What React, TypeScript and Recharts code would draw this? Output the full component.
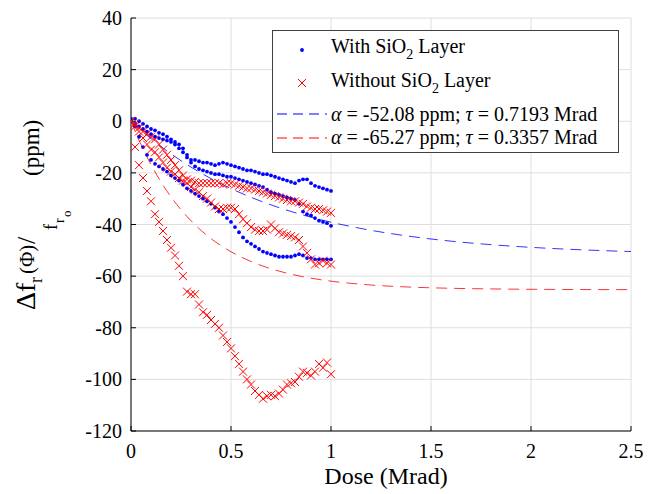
import React from "react";
import { ComposedChart, Scatter, Line, XAxis, YAxis, CartesianGrid, Legend } from "recharts";

const FONT = '"Liberation Serif", "Times New Roman", Times, serif';
const SERIF = { fontFamily: FONT };

const DOSE = [
  0, 0.02, 0.04, 0.06, 0.08, 0.1, 0.12, 0.14, 0.16, 0.18, 0.2, 0.22, 0.24, 0.26, 0.28, 0.3, 0.32,
  0.34, 0.36, 0.38, 0.4, 0.42, 0.44, 0.46, 0.48, 0.5, 0.52, 0.54, 0.56, 0.58, 0.6, 0.62, 0.64, 0.66,
  0.68, 0.7, 0.72, 0.74, 0.76, 0.78, 0.8, 0.82, 0.84, 0.86, 0.88, 0.9, 0.92, 0.94, 0.96, 0.98, 1.0,
];

// with SiO2 layer, three measurement runs
const WITH_RUN1 = [
  1, 1, 0, -1, -2, -3, -3.5, -4.5, -5, -6, -7, -8, -9, -10.5, -13, -15, -15, -15.5, -16, -16, -16.5,
  -17, -16.5, -16, -16.5, -17, -17.5, -18, -18.5, -19, -19, -19.5, -20, -20.5, -20.5, -21, -21.5,
  -22, -22.5, -23, -23.5, -24, -23, -22.5, -22.5, -24, -25, -25.5, -26, -26.5, -27,
];
const WITH_RUN2 = [
  0, -1, -2, -3, -4, -5, -6, -6.5, -7, -7.5, -8, -9, -10.5, -12, -14, -16, -17.5, -18.5, -19, -19.5,
  -20, -20.5, -20.5, -21, -21.5, -21.5, -22, -22.5, -23, -23.5, -24, -24.5, -25, -25.5, -26.5, -27.5,
  -28, -28.5, -29, -29.5, -30, -30.5, -32, -35, -36, -36.5, -37.5, -38.5, -39, -39.5, -40.5,
];
const WITH_RUN3 = [
  0, -2, -6, -10, -13, -15, -16.5, -17.5, -18.5, -19.5, -21, -22, -23, -24.5, -26, -27, -28, -29, -30,
  -31, -32, -33.5, -35, -36, -37.5, -39, -41, -43, -45, -46.5, -47.5, -48.5, -49.5, -50.5, -51, -51.5,
  -52, -52.5, -52.5, -52.5, -52.5, -52, -51.5, -52, -53, -53, -53.5, -53.5, -53.5, -53.5, -53.5,
];

// without SiO2 layer, three measurement runs
const WITHOUT_RUN1 = [
  0, -1, -2.5, -4, -5, -6, -7, -9, -11, -13, -15, -17, -19, -21, -22.5, -23, -23.5, -24, -24, -24, -24,
  -24, -24, -24.5, -24, -24, -24.5, -25, -25.5, -26, -26, -26.5, -27, -27.5, -28, -28.5, -29, -29.5,
  -30, -30.5, -31, -31, -31.5, -32, -33, -33.5, -34, -34, -34.5, -35, -35.5,
];
const WITHOUT_RUN2 = [
  0, -2, -4, -6.5, -9, -11, -12, -14, -16, -18, -19.5, -20.5, -22, -23, -24, -25.5, -26.5, -27.5, -29,
  -30, -31.5, -33, -34, -34, -33.5, -33.5, -34, -36, -38, -39.5, -41, -42, -42.5, -42.5, -42, -40,
  -41.5, -43, -43.5, -44, -44.5, -45, -46, -48.5, -51, -53.5, -55.5, -55, -54, -55, -55.5,
];
const WITHOUT_RUN3 = [
  0, -10, -17, -22, -27, -31, -36, -39, -42.5, -46, -49, -52, -56, -60, -66, -67, -67, -71, -74, -75,
  -77, -78.5, -80, -83, -85.5, -88, -91, -94, -97, -100, -102, -104.5, -106, -107.5, -106.5, -106,
  -106.5, -105.5, -104, -102, -101.5, -101, -99, -97, -97.5, -98.5, -97, -94, -95.5, -93.5, -98,
];

// fitted curves
const FIT_BLUE_DOSE = [
  0, 0.1, 0.2, 0.3, 0.4, 0.5, 0.6, 0.7, 0.8, 0.9, 1.0, 1.1, 1.2, 1.3, 1.4, 1.5, 1.6, 1.7, 1.8, 1.9, 2.0,
  2.1, 2.2, 2.3, 2.4, 2.5,
];
const FIT_BLUE = [
  0, -6.76, -12.64, -17.76, -22.22, -26.09, -29.46, -32.4, -34.95, -37.17, -39.11, -40.79, -42.26,
  -43.53, -44.64, -45.61, -46.45, -47.18, -47.81, -48.37, -48.85, -49.27, -49.63, -49.95, -50.23, -50.47,
];
const FIT_RED_DOSE = [
  0, 0.05, 0.1, 0.15, 0.2, 0.25, 0.3, 0.4, 0.5, 0.6, 0.7, 0.8, 0.9, 1.0, 1.2, 1.4, 1.6, 1.8, 2.0, 2.2, 2.5,
];
const FIT_RED = [
  0, -9.03, -16.81, -23.52, -29.3, -34.27, -38.57, -45.45, -50.55, -54.34, -57.16, -59.25, -60.8,
  -61.95, -63.44, -64.26, -64.71, -64.96, -65.1, -65.18, -65.23,
];

const X_TICKS = [0, 0.5, 1, 1.5, 2, 2.5];
const Y_TICKS = [40, 20, 0, -20, -40, -60, -80, -100, -120];

const BLUE = "#0000ff";
const RED = "#ff0000";

const toPoints = (xs: number[], ys: number[]) => ys.map((y, i) => ({ x: xs[i], y }));

const withData = [
  ...toPoints(DOSE, WITH_RUN1),
  ...toPoints(DOSE, WITH_RUN2),
  ...toPoints(DOSE, WITH_RUN3),
];
const withoutData = [
  ...toPoints(DOSE, WITHOUT_RUN1),
  ...toPoints(DOSE, WITHOUT_RUN2),
  ...toPoints(DOSE, WITHOUT_RUN3),
];
const fitBlueData = toPoints(FIT_BLUE_DOSE, FIT_BLUE);
const fitRedData = toPoints(FIT_RED_DOSE, FIT_RED);

const Dot = (props: any) => <circle cx={props.cx} cy={props.cy} r={1.9} fill={BLUE} />;

const Cross = (props: any) => {
  const { cx, cy } = props;
  const s = 4;
  return (
    <path
      d={`M${cx - s},${cy - s}L${cx + s},${cy + s}M${cx + s},${cy - s}L${cx - s},${cy + s}`}
      stroke={RED}
      strokeWidth={1}
      fill="none"
    />
  );
};

// tick text sits outside the box while the tick marks point inward
const XTick = (props: any) => (
  <text x={props.x} y={props.y + 32} textAnchor="middle" fontSize={20} fill="#000" style={SERIF}>
    {props.payload.value}
  </text>
);

const YTick = (props: any) => (
  <text x={props.x - 14} y={props.y + 7} textAnchor="end" fontSize={20} fill="#000" style={SERIF}>
    {props.payload.value}
  </text>
);

const XLabel = () => (
  <text x={386} y={484} textAnchor="middle" fontSize={24} fill="#000" style={SERIF}>
    Dose (Mrad)
  </text>
);

const LegendBox = () => (
  <svg width={347} height={123} style={{ display: "block" }}>
    <rect x={0.5} y={0.5} width={346} height={122} fill="#fff" stroke="#404040" strokeWidth={1} />
    <g fontSize={20} fill="#000" style={SERIF}>
      <circle cx={30} cy={20} r={1.9} fill={BLUE} />
      <text x={59} y={23} style={SERIF}>
        With SiO<tspan dy={6} fontSize={14}>2</tspan>
        <tspan dy={-6}> Layer</tspan>
      </text>
      <path d="M26,49L34,57M34,49L26,57" stroke={RED} strokeWidth={1} />
      <text x={59} y={57} style={SERIF}>
        Without SiO<tspan dy={6} fontSize={14}>2</tspan>
        <tspan dy={-6}> Layer</tspan>
      </text>
      <line x1={5} x2={55} y1={84} y2={84} stroke={BLUE} strokeWidth={1} strokeDasharray="10 6" />
      <text x={59} y={91} style={SERIF}>
        <tspan fontStyle="italic">α</tspan> = -52.08 ppm; <tspan fontStyle="italic">τ</tspan> = 0.7193 Mrad
      </text>
      <line x1={5} x2={55} y1={108} y2={108} stroke={RED} strokeWidth={1} strokeDasharray="10 6" />
      <text x={59} y={114} style={SERIF}>
        <tspan fontStyle="italic">α</tspan> = -65.27 ppm; <tspan fontStyle="italic">τ</tspan> = 0.3357 Mrad
      </text>
    </g>
  </svg>
);

// rotated y label, pieces placed along the text direction (u) and across it (v)
const YLabel = () => (
  <g transform="translate(35, 310) rotate(-90)" fill="#000" style={SERIF}>
    <text x={0} y={0} fontSize={28} style={SERIF}>Δf</text>
    <text x={27} y={7} fontSize={18} style={SERIF}>r</text>
    <text x={36} y={-1} fontSize={21} style={SERIF}>(Φ)</text>
    <text x={66} y={0} fontSize={26} style={SERIF}>/</text>
    <text x={80} y={22} fontSize={18} style={SERIF}>f</text>
    <text x={87} y={29} fontSize={14} style={SERIF}>r</text>
    <text x={93} y={36} fontSize={13} style={SERIF}>o</text>
    <text x={134} y={4} fontSize={23} style={SERIF}>(ppm)</text>
  </g>
);

export default function App() {
  return (
    <div style={{ position: "absolute", left: 0, top: 0, width: 648, height: 494, background: "#fff", ...SERIF }}>
      <ComposedChart width={648} height={494} margin={{ top: 18, right: 17, bottom: 0, left: 0 }}>
        <CartesianGrid stroke="#dedede" strokeWidth={1} />
        <XAxis
          type="number"
          dataKey="x"
          domain={[0, 2.5]}
          ticks={X_TICKS}
          allowDataOverflow
          height={63}
          tickSize={-5}
          tickMargin={0}
          axisLine={{ stroke: "#000" }}
          tickLine={{ stroke: "#000" }}
          tick={<XTick />}
          label={<XLabel />}
        />
        <XAxis
          xAxisId="top"
          orientation="top"
          type="number"
          dataKey="x"
          domain={[0, 2.5]}
          ticks={X_TICKS}
          allowDataOverflow
          height={0}
          tickSize={-5}
          tickFormatter={() => ""}
          axisLine={{ stroke: "#000" }}
          tickLine={{ stroke: "#000" }}
        />
        <YAxis
          type="number"
          domain={[-120, 40]}
          ticks={Y_TICKS}
          allowDataOverflow
          width={131}
          tickSize={-5}
          tickMargin={0}
          axisLine={{ stroke: "#000" }}
          tickLine={{ stroke: "#000" }}
          tick={<YTick />}
          label={<YLabel />}
        />
        <YAxis
          yAxisId="right"
          orientation="right"
          type="number"
          domain={[-120, 40]}
          ticks={Y_TICKS}
          allowDataOverflow
          width={0}
          tickSize={-5}
          tickFormatter={() => ""}
          axisLine={{ stroke: "#000" }}
          tickLine={{ stroke: "#000" }}
        />
        <Scatter name="With SiO2 Layer" data={withData} dataKey="y" shape={<Dot />} isAnimationActive={false} />
        <Scatter name="Without SiO2 Layer" data={withoutData} dataKey="y" shape={<Cross />} isAnimationActive={false} />
        <Line
          data={fitBlueData}
          dataKey="y"
          type="monotone"
          stroke={BLUE}
          strokeWidth={0.8}
          strokeDasharray="11 7"
          dot={false}
          activeDot={false}
          isAnimationActive={false}
        />
        <Line
          data={fitRedData}
          dataKey="y"
          type="monotone"
          stroke={RED}
          strokeWidth={0.8}
          strokeDasharray="11 7"
          dot={false}
          activeDot={false}
          isAnimationActive={false}
        />
        <Legend
          layout="vertical"
          align="center"
          verticalAlign="middle"
          wrapperStyle={{ left: 272, top: 30, width: 347, height: 123 }}
          content={() => <LegendBox />}
        />
      </ComposedChart>
    </div>
  );
}
